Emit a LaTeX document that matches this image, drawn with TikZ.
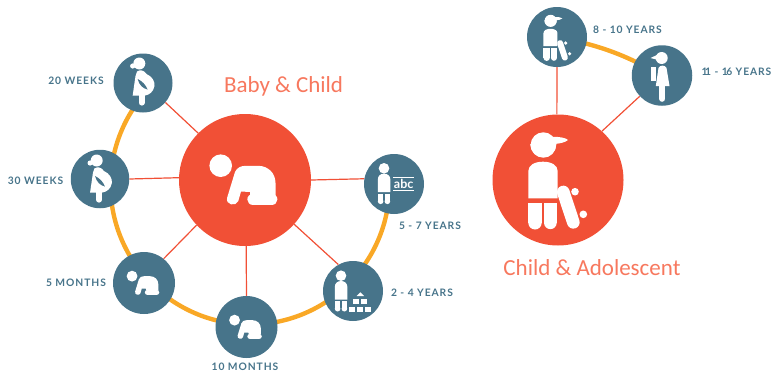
\documentclass[tikz,border=0pt]{standalone}
\usepackage{fontspec}
\setmainfont{Lato}
\newfontfamily\titlefont{Carlito}
\newfontfamily\labfont[LetterSpace=9]{Lato Bold}
\usetikzlibrary{backgrounds}
\definecolor{teal1}{HTML}{47748A}
\definecolor{red1}{HTML}{F15036}
\definecolor{orange1}{HTML}{F9A826}
\definecolor{title1}{HTML}{F7785E}
\tikzset{
  bigdot/.style={circle,fill=red1,inner sep=0pt,minimum size=#1},
  smalldot/.style={circle,fill=teal1,inner sep=0pt,minimum size=#1},
  spoke/.style={draw=red1,line width=1.2pt},
  rim/.style={draw=orange1,line width=4.4pt},
  lab/.style={text=teal1,font=\labfont\fontsize{10.3}{12}\selectfont,inner sep=0pt},
  titlelab/.style={text=title1,font=\titlefont\fontsize{23}{26}\selectfont,inner sep=0pt},
  ico/.style={fill=white,draw=none}
}
\newcommand{\babyicon}[3]{%
  \begin{scope}[shift={(#1,#2)},scale=#3,shift={(-243.5,-180)}]
    \fill[ico] (220.7,165.7) circle[radius=11.3];
    \fill[ico] (227.2,197.5) -- (235,172) .. controls (237,167.5) and (241,165.8) .. (246,165.8)
      -- (258,165.8) .. controls (268,165.8) and (275.5,173) .. (275.5,183) -- (275.5,196)
      -- (250,196) -- (250,192) -- (241,191.5) -- (238.3,201) .. controls (236,207) and (225,205) .. (227.2,197.5) -- cycle;
    \draw[white,line width=#3*11.4pt,line cap=round] (253,199.3) -- (271.7,199.3);
  \end{scope}}
\newcommand{\momicon}[2]{%
  \begin{scope}[shift={(#1,#2)},shift={(-143,-83)}]
    \fill[ico] (139.3,63.5) circle[radius=6];
    \fill[ico] (132.7,66) circle[radius=2.6];
    \fill[ico] (137,71.5) .. controls (140,69.5) and (144,70) .. (146.5,74)
      .. controls (152,76.5) and (155,81) .. (154.5,86)
      .. controls (153.5,92) and (149,95) .. (145,95.5) -- (132.7,95.5) -- (135.5,76) -- cycle;
    \draw[white,line width=5.6pt,line cap=round] (141.7,94) -- (141.7,102.8);
    \fill[teal1] (137.7,79) .. controls (142.5,81.5) and (145.5,84.5) .. (147.5,89.5)
      .. controls (143,88.5) and (139,85) .. (137.7,79) -- cycle;
  \end{scope}}
\newcommand{\kidicon}[2]{%
  \begin{scope}[shift={(#1,#2)}]
    \fill[ico] (0,0) circle[radius=5.3];
    \fill[ico] (-6.2,23.8) -- (-6.2,11.5) .. controls (-6.2,7.5) and (-3.5,5.3) .. (0,5.3)
      .. controls (3.5,5.3) and (6.4,7.5) .. (6.4,11.5) -- (6.4,23.8) -- cycle;
    \fill[ico] (-6.2,25.2) rectangle (-0.6,33) ;
    \fill[ico] (0.6,25.2) rectangle (6.2,33);
    \fill[ico] (-3.4,33) circle[radius=2.8];
    \fill[ico] (3.4,33) circle[radius=2.8];
  \end{scope}}
\newcommand{\boyicon}[3]{%
  \begin{scope}[shift={(#1,#2)},scale=#3,shift={(-557.8,-180.7)}]
    \fill[ico] (543.3,145) circle[radius=12.7];
    \fill[ico] (530.2,144) arc[start angle=180,end angle=0,radius=13.1] -- cycle;
    \fill[ico] (552,137) .. controls (560,136.5) and (566,138) .. (568,140)
      .. controls (565,142.5) and (559,144) .. (552,144) -- cycle;
    \fill[ico] (528.3,198.3) -- (528.3,171) .. controls (528.3,165) and (535,161.7) .. (543,161.7)
      .. controls (551,161.7) and (557.7,165) .. (557.7,171) -- (557.7,198.3) -- cycle;
    \fill[ico] (528.3,202.7) rectangle (541.7,222.8);
    \fill[ico] (535,222.8) circle[radius=6.7];
    \fill[ico] (544,202.7) rectangle (556.7,222.8);
    \fill[ico] (550.35,222.8) circle[radius=6.35];
    \draw[white,line width=#3*12.7pt,line cap=round] (563.3,192) -- (573.3,222.3);
    \fill[ico] (575,191.7) circle[radius=3.8];
    \fill[ico] (583.3,214.3) circle[radius=3.8];
  \end{scope}}
\begin{document}
\begin{tikzpicture}[x=1pt,y=-1pt]
  \useasboundingbox (0,0) rectangle (778,372);
  % nodes
  \node[bigdot=132pt] (baby) at (245,180) {};
  \node[bigdot=131pt] (child) at (558,180) {};
  \node[smalldot=59pt] (w20) at (143,83) {};
  \node[smalldot=58.5pt] (w30) at (100,179) {};
  \node[smalldot=62pt] (m5) at (144,283) {};
  \node[smalldot=62pt] (m10) at (246.5,327) {};
  \node[smalldot=60pt] (y2) at (353,291) {};
  \node[smalldot=60pt] (y5) at (394,184) {};
  \node[smalldot=60pt] (y8) at (557,37) {};
  \node[smalldot=60.5pt] (y11) at (662,75.5) {};
  % connectors
  \begin{scope}[on background layer]
    \draw[rim] plot[smooth,domain=224:0,samples=90] ({250+139.5*cos(\x)},{185+139.5*sin(\x)});
    \draw[rim] (y8.center) to[bend left=9] (y11.center);
    \draw[spoke] (baby.135) -- (w20.-41);
    \draw[spoke] (baby.178) -- (w30.0);
    \draw[spoke] (baby.223) -- (m5.51);
    \draw[spoke] (baby.-89) -- (m10.90);
    \draw[spoke] (baby.-42.4) -- (y2.119.5);
    \draw[spoke] (baby.0) -- (y5.170);
    \draw[spoke] (child.91) -- (y8.270);
    \draw[spoke] (child.48.4) -- (y11.223);
  \end{scope}
  % icons
  \babyicon{243.5}{180}{1}
  \babyicon{143}{283}{0.48}
  \babyicon{245.5}{327}{0.48}
  \momicon{143}{83}
  \momicon{100.4}{180}
  \kidicon{384}{168.3}
  \kidicon{341}{275.7}
  \boyicon{557.8}{180.7}{1}
  \boyicon{557.5}{37.8}{0.475}
  % abc
  \fill[white] (393.3,176.8) rectangle (414,177.9);
  \fill[white] (393.3,190.2) rectangle (414,191.3);
  \node[text=white,font=\bfseries\fontsize{12.5}{13}\selectfont,inner sep=0pt] (abc) at (403.7,184) {abc};
  % blocks
  \foreach \bx in {349,357,365} \fill[white] (\bx,306.7) rectangle ++(6,5);
  \foreach \bx in {353,361} \fill[white] (\bx,298.5) rectangle ++(6,5.5);
  \fill[white] (360.3,292.3) -- (364,296) -- (356.7,296) -- cycle;
  % teen
  \fill[white] (661.7,58) circle[radius=6];
  \fill[white] (650.5,58) -- (658,54.5) -- (658,60) -- cycle;
  \fill[white] (658.5,68) .. controls (660,64.8) and (665,64.8) .. (666.5,68) -- (669.5,86) -- (655.8,86) -- cycle;
  \draw[white,line width=6pt,line cap=round] (662.3,85) -- (662.3,98.8);
  \fill[white] (650.7,66.8) rectangle (652.6,81);
  \fill[white] (653.4,66.8) rectangle (655.8,81);
  % labels
  \node[titlelab] (t1) at (283.5,86) {Baby \& Child};
  \node[titlelab] (t2) at (592,268) {Child \& Adolescent};
  \node[lab] (l1) at (76,81) {20 WEEKS};
  \node[lab] (l2) at (35.5,181) {30 WEEKS};
  \node[lab] (l3) at (76,283) {5 MONTHS};
  \node[lab] (l4) at (245,367) {10 MONTHS};
  \node[lab] (l5) at (422,293) {2 - 4 YEARS};
  \node[lab] (l6) at (430,226) {5 - 7 YEARS};
  \node[lab] (l7) at (627.5,30) {8 - 10 YEARS};
  \node[lab] (l8) at (736.5,72) {1\kern-2.5pt 1 - 1\kern-1.5pt 6 YEARS};
\end{tikzpicture}
\end{document}
